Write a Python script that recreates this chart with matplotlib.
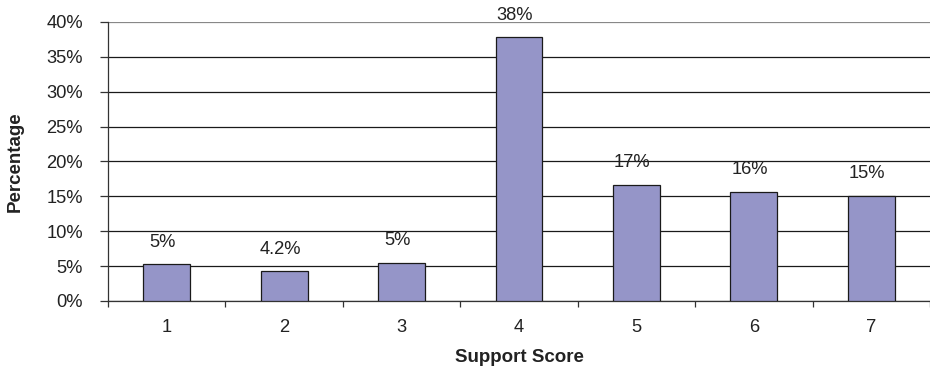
import numpy as np
import matplotlib
matplotlib.use('Agg')
import matplotlib.pyplot as plt
from matplotlib.ticker import FixedLocator, FuncFormatter

# Data
scores = [1, 2, 3, 4, 5, 6, 7]
percent = [5.25, 4.25, 5.45, 37.8, 16.6, 15.6, 15.1]
labels = ['5%', '4.2%', '5%', '38%', '17%', '16%', '15%']
yticks = [0, 5, 10, 15, 20, 25, 30, 35, 40]

plt.rcParams['font.family'] = ['Liberation Sans', 'DejaVu Sans']
fs = 13.2

fig = plt.figure(figsize=(9.3, 3.72), dpi=100)
ax = fig.add_axes([0.1161, 0.1909, 0.8839, 0.75])

x = np.array(scores)
ax.bar(x, percent, width=0.4, color='#9595c8', edgecolor='#1a1a1a',
       linewidth=0.9, zorder=3)

for xi, yi, lab in zip(x, percent, labels):
    ax.annotate(lab, (xi, yi), xytext=(-3, 16), textcoords='offset points',
                ha='center', va='center', fontsize=fs, color='#222222')

ax.set_xlim(0.5, 7.5)
ax.set_ylim(0, 40)

# category boundary ticks, labels in the middle
ax.xaxis.set_major_locator(FixedLocator(np.arange(0.5, 8, 1.0)))
ax.xaxis.set_major_formatter(FuncFormatter(lambda v, p: ''))
ax.xaxis.set_minor_locator(FixedLocator(x))
ax.xaxis.set_minor_formatter(FuncFormatter(lambda v, p: '%d' % round(v)))
ax.tick_params(axis='x', which='major', length=4, width=0.9, color='#333333', direction='out')
ax.tick_params(axis='x', which='minor', length=0, pad=13, labelsize=fs, labelcolor='#222222')

ax.set_yticks(yticks)
ax.yaxis.set_major_formatter(FuncFormatter(lambda v, p: '%d%%' % v))
ax.tick_params(axis='y', length=6, width=0.9, color='#333333', pad=12,
               labelsize=fs, labelcolor='#222222')

ax.grid(axis='y', color='#1a1a1a', linewidth=0.9, zorder=0)
ax.get_ygridlines()[-1].set_color('#888888')
ax.set_axisbelow(True)

for s in ['top', 'right']:
    ax.spines[s].set_visible(False)
ax.spines['left'].set_color('#333333')
ax.spines['bottom'].set_color('#333333')
ax.spines['left'].set_linewidth(0.9)
ax.spines['bottom'].set_linewidth(0.9)

ax.set_xlabel('Support Score', fontsize=13.5, fontweight='bold', color='#222222', labelpad=9)
ax.set_ylabel('Percentage', fontsize=13.5, fontweight='bold', color='#222222', labelpad=16)

fig.savefig('out.png', dpi=100)
